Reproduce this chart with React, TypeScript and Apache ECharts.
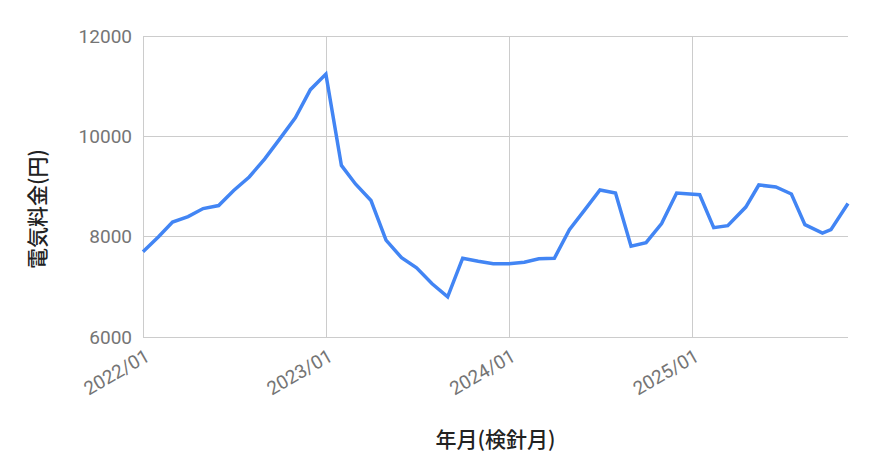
import React, { useEffect, useRef } from "react";
import * as echarts from "echarts";

// 検針日 (meter reading dates)
const dates: string[] = [
  "2022-01-01", "2022-02-01", "2022-03-01", "2022-04-01", "2022-05-01", "2022-06-01",
  "2022-07-01", "2022-08-01", "2022-09-01", "2022-10-01", "2022-11-01", "2022-12-01",
  "2023-01-01", "2023-02-01", "2023-03-01", "2023-04-01", "2023-05-01", "2023-06-01",
  "2023-07-01", "2023-08-01", "2023-09-01", "2023-10-01", "2023-11-01", "2023-12-01",
  "2024-01-01", "2024-02-01", "2024-03-01", "2024-04-01", "2024-05-01", "2024-06-01",
  "2024-07-01", "2024-08-01", "2024-09-01", "2024-10-01", "2024-11-01", "2024-12-01",
  "2025-01-16", "2025-02-13", "2025-03-13", "2025-04-18", "2025-05-14", "2025-06-17",
  "2025-07-18", "2025-08-14", "2025-09-18", "2025-10-05", "2025-11-08",
];

// 電気料金 (円)
const charges: number[] = [
  7700, 8000, 8290, 8400, 8560, 8620,
  8920, 9190, 9550, 9950, 10370, 10930,
  11240, 9420, 9050, 8720, 7930, 7580,
  7380, 7060, 6800, 7570, 7510, 7460,
  7460, 7490, 7560, 7570, 8140, 8540,
  8930, 8870, 7810, 7880, 8260, 8870,
  8835, 8180, 8220, 8590, 9030, 8990,
  8850, 8240, 8070, 8140, 8660,
];

const yTicks: number[] = [6000, 8000, 10000, 12000];

const xTitle = "年月(検針月)";
const yTitle = "電気料金(円)";

export default function App() {
  const ref = useRef<HTMLDivElement>(null);

  useEffect(() => {
    if (!ref.current) return;
    const chart = echarts.init(ref.current, undefined, { renderer: "svg" });
    const DAY = 24 * 3600 * 1000;
    chart.setOption({
      animation: false,
      textStyle: { fontFamily: "Roboto, 'Noto Sans CJK JP', sans-serif" },
      grid: { left: 135, right: 16, top: 28, bottom: 127, containLabel: false },
      xAxis: {
        type: "time",
        min: dates[0],
        max: dates[dates.length - 1],
        minInterval: 365 * DAY,
        maxInterval: 367 * DAY,
        name: xTitle,
        nameLocation: "middle",
        nameGap: 90,
        nameTextStyle: {
          fontSize: 21,
          color: "#222222",
          fontWeight: 500,
          fontFamily: "'Noto Sans CJK JP', sans-serif",
        },
        axisLine: { show: false },
        axisTick: { show: false },
        axisLabel: {
          rotate: 30,
          margin: 9,
          verticalAlign: "top",
          fontSize: 19,
          color: "#757575",
          showMaxLabel: false,
          formatter: (val: number) => {
            const d = new Date(val);
            if (d.getMonth() !== 0 || d.getDate() !== 1) return "";
            return `${d.getFullYear()}/${String(d.getMonth() + 1).padStart(2, "0")}`;
          },
        },
        splitLine: {
          show: true,
          showMaxLine: false,
          lineStyle: { color: "#cccccc", width: 1 },
        },
      },
      yAxis: {
        type: "value",
        min: yTicks[0],
        max: yTicks[yTicks.length - 1],
        interval: yTicks[1] - yTicks[0],
        axisLine: { show: false },
        axisTick: { show: false },
        axisLabel: {
          fontSize: 19,
          color: "#757575",
          margin: 11,
          formatter: (v: number) => String(v),
        },
        splitLine: { show: true, lineStyle: { color: "#cccccc", width: 1 } },
      },
      graphic: [
        {
          type: "text",
          x: 28,
          y: 201,
          rotation: Math.PI / 2,
          style: {
            text: yTitle,
            fontSize: 21,
            fontWeight: 500,
            fill: "#222222",
            fontFamily: "'Noto Sans CJK JP', sans-serif",
            textAlign: "center",
            textVerticalAlign: "middle",
          },
        },
      ],
      series: [
        {
          type: "line",
          data: dates.map((d, i) => [d, charges[i]]),
          showSymbol: false,
          symbol: "none",
          smooth: false,
          lineStyle: { color: "#4285F4", width: 3.5, join: "miter" },
          itemStyle: { color: "#4285F4" },
        },
      ],
    });
    return () => chart.dispose();
  }, []);

  return <div ref={ref} style={{ width: 856, height: 456 }} />;
}
